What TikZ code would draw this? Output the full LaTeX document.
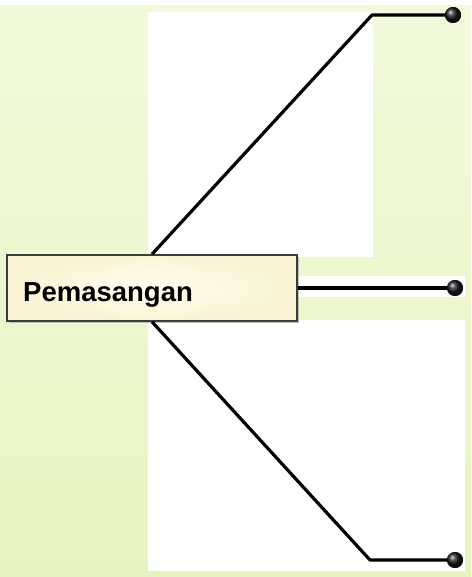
\documentclass[tikz,border=0pt]{standalone}
\usepackage{fontspec}
\setmainfont{Liberation Sans}
\usetikzlibrary{shadows}
\definecolor{bgtop}{HTML}{F2FADC}
\definecolor{bgbot}{HTML}{E6F5C0}
\definecolor{boxin}{HTML}{FFFDEE}
\definecolor{boxout}{HTML}{FAF3D4}
\definecolor{boxedge}{HTML}{3C3C3C}
\tikzset{
  conn/.style={line width=3.2pt, black, line join=round},
  dotball/.style={circle, inner sep=0pt, minimum size=16pt, ball color=black!90, draw=none},
  mainbox/.style={rectangle, draw=boxedge, line width=1.6pt, inner color=boxin, outer color=boxout,
     minimum width=290pt, minimum height=66pt, inner sep=0pt,
     drop shadow={shadow xshift=2pt, shadow yshift=-2pt, fill=black!45, opacity=0.5}},
  label/.style={font=\bfseries\fontsize{27.5pt}{30pt}\selectfont, inner sep=0pt, anchor=base west}
}
\begin{document}
\begin{tikzpicture}[x=1pt,y=-1pt]
\useasboundingbox (0,0) rectangle (471,577);
\fill[white] (0,0) rectangle (471,577);
\shade[top color=bgtop, bottom color=bgbot] (0,6) rectangle (471,577);
\fill[white] (148,12) rectangle (373,257);
\fill[white] (296,276) rectangle (465,297);
\fill[white] (148,320) rectangle (465,571);
\node[mainbox] (box) at (152,288) {};
\node[label] (lbl) at (23,301) {Pemasangan};
\coordinate (t1) at (372,15);
\coordinate (b1) at (370,560);
\node[dotball] (d1) at (453,15) {};
\node[dotball] (d2) at (455,288) {};
\node[dotball] (d3) at (455,560) {};
\draw[conn] (box.north) -- (t1) -- (d1.center);
\draw[conn] (box.east) -- (d2.center);
\draw[conn] (box.south) -- (b1) -- (d3.center);
\node[dotball] at (d1) {};
\node[dotball] at (d2) {};
\node[dotball] at (d3) {};
\end{tikzpicture}
\end{document}
